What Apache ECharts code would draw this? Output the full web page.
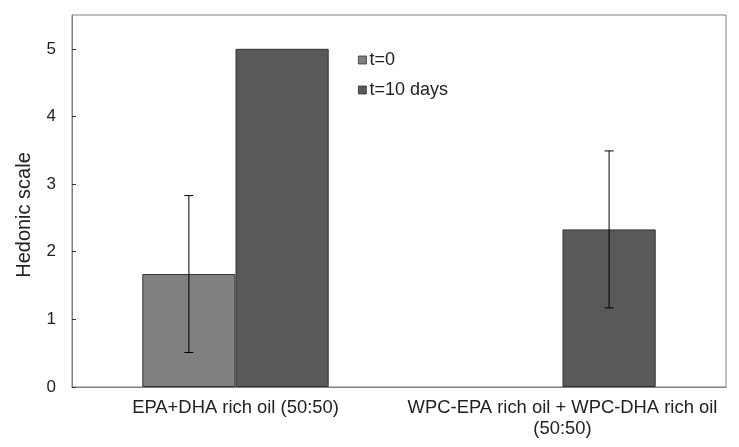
<!DOCTYPE html>
<html>
<head>
<meta charset="utf-8">
<script src="https://cdn.jsdelivr.net/npm/echarts@6/dist/echarts.min.js"></script>
<style>
  html, body { margin: 0; padding: 0; background: #fff; }
  #chart { width: 739px; height: 447px; }
</style>
</head>
<body>
<div id="chart"></div>
<script>
// data
var categories = ['EPA+DHA rich oil (50:50)', 'WPC-EPA rich oil + WPC-DHA rich oil\n(50:50)'];
var seriesNames = ['t=0', 't=10 days'];
var t0Values = [1.67, null];
var t10Values = [5.0, 2.33];
var t0Errors = [1.16, null];
var t10Errors = [null, 1.16];
var yTicks = [0, 1, 2, 3, 4, 5];

var barColors = ['#808080', '#595959'];
var catGap = 0.43; // barCategoryGap as fraction

var chart = echarts.init(document.getElementById('chart'));

// error bars, drawn at the centre of the matching bar
function errorSeries(name, values, errors, idx) {
  var data = [];
  for (var i = 0; i < values.length; i++) {
    if (values[i] != null && errors[i] != null) {
      data.push([i, values[i] - errors[i], values[i] + errors[i]]);
    }
  }
  return {
    type: 'custom',
    name: name,
    silent: true,
    z: 10,
    renderItem: function (params, api) {
      var band = api.size([1, 0])[0];
      var bw = band * (1 - catGap) / 2;
      var off = (idx === 0 ? -bw / 2 : bw / 2);
      var lo = api.coord([api.value(0), api.value(1)]);
      var hi = api.coord([api.value(0), api.value(2)]);
      var x = lo[0] + off;
      var cap = 4.5;
      var st = { stroke: '#000', lineWidth: 1 };
      return {
        type: 'group',
        children: [
          { type: 'line', shape: { x1: x, y1: lo[1], x2: x, y2: hi[1] }, style: st },
          { type: 'line', shape: { x1: x - cap, y1: lo[1], x2: x + cap, y2: lo[1] }, style: st },
          { type: 'line', shape: { x1: x - cap, y1: hi[1], x2: x + cap, y2: hi[1] }, style: st }
        ]
      };
    },
    encode: { x: 0, y: [1, 2] },
    data: data
  };
}

var option = {
  animation: false,
  textStyle: { fontFamily: 'Liberation Sans, Arial, sans-serif' },
  grid: {
    left: 72, right: 13, top: 15, bottom: 60,
    show: true, borderColor: '#808080', borderWidth: 1
  },
  legend: {
    data: seriesNames.map(function (n, i) {
      return { name: n, itemStyle: { color: barColors[i], borderColor: '#333', borderWidth: 0.8 } };
    }),
    orient: 'vertical',
    left: 353,
    top: 46,
    itemWidth: 8,
    itemHeight: 8,
    itemGap: 12,
    icon: 'rect',
    textStyle: { fontSize: 18, color: '#222', padding: [0, 0, 0, -2] }
  },
  xAxis: {
    type: 'category',
    data: categories,
    axisLine: { show: true, lineStyle: { color: '#808080' } },
    axisTick: { show: false },
    axisLabel: { fontSize: 18.4, color: '#222', margin: 10, lineHeight: 21, interval: 0 }
  },
  yAxis: {
    type: 'value',
    min: 0,
    max: 5.5,
    interval: 1,
    name: 'Hedonic scale',
    nameLocation: 'middle',
    nameGap: 38,
    nameTextStyle: { fontSize: 20, color: '#222', padding: [0, 28, 0, 0] },
    axisLine: { show: true, lineStyle: { color: '#808080' } },
    axisTick: { show: true, inside: true, length: 4, lineStyle: { color: '#333' } },
    splitLine: { show: false },
    axisLabel: {
      fontSize: 17, color: '#222', margin: 16, showMaxLabel: false,
      formatter: function (v) { return yTicks.indexOf(v) >= 0 ? String(v) : ''; }
    }
  },
  series: [
    {
      name: seriesNames[0], type: 'bar', data: t0Values,
      barGap: '0%', barCategoryGap: (catGap * 100) + '%',
      itemStyle: { color: barColors[0], borderColor: '#333', borderWidth: 1 }
    },
    {
      name: seriesNames[1], type: 'bar', data: t10Values,
      itemStyle: { color: barColors[1], borderColor: '#333', borderWidth: 1 }
    },
    errorSeries('err0', t0Values, t0Errors, 0),
    errorSeries('err1', t10Values, t10Errors, 1)
  ]
};
chart.setOption(option);
</script>
</body>
</html>
